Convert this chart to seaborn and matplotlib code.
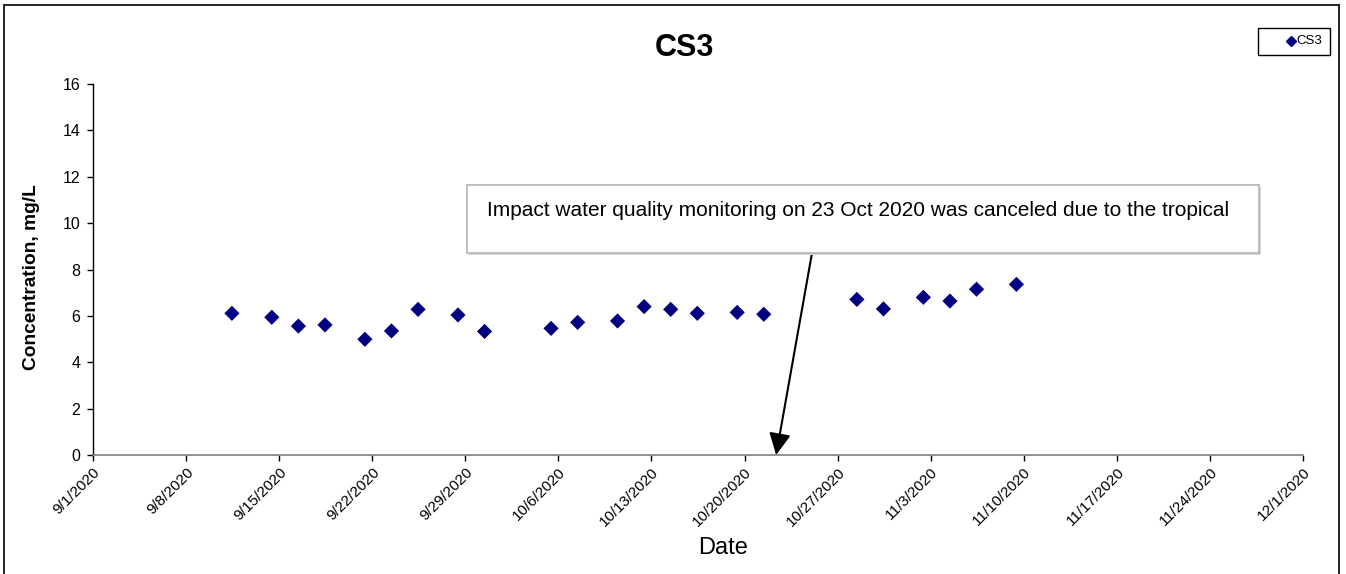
import matplotlib
matplotlib.use("Agg")
import matplotlib.pyplot as plt
from matplotlib.patches import Rectangle
from matplotlib.lines import Line2D
import seaborn as sns
import pandas as pd

sns.set_theme(style="white")
plt.rcParams['font.family'] = ['Liberation Sans', 'DejaVu Sans']
plt.rcParams['text.color'] = 'black'
plt.rcParams['axes.labelcolor'] = 'black'
plt.rcParams['xtick.color'] = 'black'
plt.rcParams['ytick.color'] = 'black'

# ---- data ----
dates = ["2020-09-11 10:45", "2020-09-14 10:45", "2020-09-16 10:45", "2020-09-18 10:45",
         "2020-09-21 10:45", "2020-09-23 10:45", "2020-09-25 10:45", "2020-09-28 10:45",
         "2020-09-30 10:45", "2020-10-05 10:45", "2020-10-07 10:45", "2020-10-10 10:45",
         "2020-10-12 10:45", "2020-10-14 10:45", "2020-10-16 10:45", "2020-10-19 10:45",
         "2020-10-21 10:45", "2020-10-28 10:45", "2020-10-30 10:45", "2020-11-02 10:45",
         "2020-11-04 10:45", "2020-11-06 10:45", "2020-11-09 10:45"]
values = [6.11, 5.94, 5.56, 5.61, 4.99, 5.35, 6.28, 6.04, 5.33, 5.46, 5.72, 5.78,
          6.40, 6.28, 6.11, 6.15, 6.07, 6.71, 6.30, 6.80, 6.64, 7.15, 7.36]
series_name = "CS3"
y_ticks = [0, 2, 4, 6, 8, 10, 12, 14, 16]
x_tick_dates = ["2020-09-01", "2020-09-08", "2020-09-15", "2020-09-22", "2020-09-29",
                "2020-10-06", "2020-10-13", "2020-10-20", "2020-10-27", "2020-11-03",
                "2020-11-10", "2020-11-17", "2020-11-24", "2020-12-01"]
note_text = "Impact water quality monitoring on 23 Oct 2020 was canceled due to the tropical"
arrow_target = "2020-10-22 09:00"

df = pd.DataFrame({"Date": pd.to_datetime(dates), "Concentration": values, "Site": series_name})

W, H = 1346, 574
fig = plt.figure(figsize=(W / 100, H / 100), dpi=100)
fig.patch.set_facecolor("white")

def fx(px):
    return px / W

def fy(py):
    return 1 - py / H

ax = fig.add_axes([fx(93), fy(455), fx(1303) - fx(93), fy(84) - fy(455)])

sns.scatterplot(data=df, x="Date", y="Concentration", hue="Site", palette=["#000080"],
                marker="D", s=60, edgecolor="#000080", linewidth=0, ax=ax, legend=False)

xt = pd.to_datetime(x_tick_dates)
ax.set_xlim(xt[0], xt[-1])
ax.set_ylim(0, 16)
ax.set_xticks(xt)
ax.set_xticklabels([f"{d.month}/{d.day}/{d.year}" for d in xt], rotation=45,
                   ha="right", rotation_mode="anchor", fontsize=11)
ax.set_yticks(y_ticks)
ax.set_yticklabels([str(v) for v in y_ticks], fontsize=11.5)
ax.tick_params(axis="both", direction="out", length=4, width=1, color="black",
               bottom=True, left=True, pad=5)
ax.tick_params(axis="x", pad=3)
for s in ["top", "right"]:
    ax.spines[s].set_visible(False)
ax.spines["left"].set_color("black")
ax.spines["bottom"].set_color("#808080")
ax.spines["left"].set_linewidth(1)
ax.spines["bottom"].set_linewidth(1.2)
ax.set_xlabel("")
ax.set_ylabel("")
ax.grid(False)

# labels and title
fig.text(fx(684), fy(48), "CS3", fontsize=22, fontweight="bold", ha="center", va="center")
fig.text(fx(723), fy(548), "Date", fontsize=17, ha="center", va="center")
fig.text(fx(32), fy(277), "Concentration, mg/L", fontsize=13.8, fontweight="bold",
         rotation=90, ha="center", va="center")

# outer frame (left, top, right)
for xs, ys in [([fx(4), fx(4)], [fy(5), 0]), ([fx(4), fx(1339)], [fy(5), fy(5)]),
               ([fx(1339), fx(1339)], [fy(5), 0])]:
    fig.add_artist(Line2D(xs, ys, color="black", lw=1.2, transform=fig.transFigure))

# legend (drawn as a framed key)
fig.add_artist(Rectangle((fx(1258), fy(55)), fx(1330) - fx(1258), fy(28) - fy(55),
                         transform=fig.transFigure, facecolor="white", edgecolor="black", lw=1))
fig.add_artist(Line2D([fx(1291)], [fy(41)], marker="D", color="#000080", linestyle="none",
                      markersize=5, transform=fig.transFigure))
fig.text(fx(1296), fy(41.5), series_name, fontsize=9.5, ha="left", va="center")

# annotation box
fig.add_artist(Rectangle((fx(469), fy(255)), fx(1261) - fx(469), fy(187) - fy(255),
                         transform=fig.transFigure, facecolor="#d9d9d9", edgecolor="none"))
fig.add_artist(Rectangle((fx(467), fy(253)), fx(1259) - fx(467), fy(185) - fy(253),
                         transform=fig.transFigure, facecolor="white", edgecolor="#b4b4b4", lw=1.2))
fig.text(fx(487), fy(210), note_text, fontsize=15.0, ha="left", va="center")
ax.annotate("", xy=(pd.Timestamp(arrow_target), 0), xycoords="data",
            xytext=(fx(812), fy(253)), textcoords="figure fraction",
            arrowprops=dict(arrowstyle="-|>,head_length=0.6,head_width=0.3", color="black",
                            lw=1.5, mutation_scale=22, shrinkA=0, shrinkB=0))

fig.savefig("out.png", dpi=100)
